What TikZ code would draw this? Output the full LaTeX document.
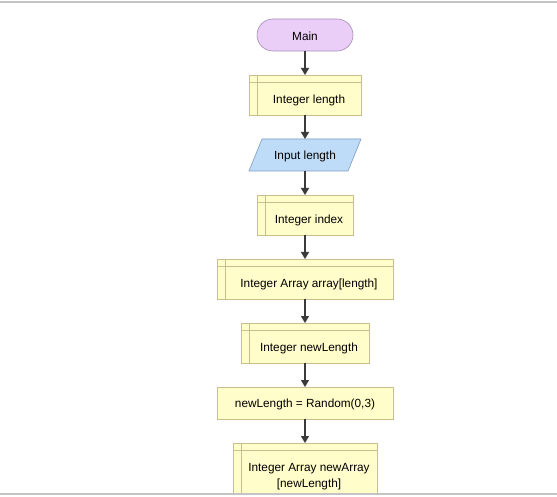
\documentclass[tikz,border=0pt]{standalone}
\usepackage{fontspec}
\setmainfont{Liberation Sans}
\usetikzlibrary{arrows.meta,shapes.geometric}
\definecolor{termfill}{HTML}{EBCEF7}
\definecolor{termline}{HTML}{A68BB5}
\definecolor{iofill}{HTML}{BEDCF8}
\definecolor{ioline}{HTML}{7D9CC0}
\definecolor{boxfill}{HTML}{FFFDC9}
\definecolor{boxline}{HTML}{C9BE8C}
\definecolor{flow}{HTML}{3A3A3A}
\definecolor{frame}{HTML}{C4C4C4}
\tikzset{
  x=1pt, y=-1pt,
  lbl/.style={font=\fontsize{11.8}{16}\selectfont, text=black, align=center, inner sep=0pt},
  flowarrow/.style={draw=flow, line width=1.3pt, -{Triangle[length=7pt,width=8pt]}},
  boxstyle/.style={fill=boxfill, draw=boxline, line width=0.6pt},
  divider/.style={draw=boxline, line width=0.6pt},
}
% declaration box with its two marker lines: left, top, right, bottom, name, text
% (the text is centred in the part right of the marker strip)
\newcommand{\declbox}[6]{%
  \path[boxstyle] (#1,#2) rectangle (#3,#4);
  \draw[divider] (#1,#2+7) -- (#3,#2+7);
  \draw[divider] (#1+8,#2) -- (#1+8,#4);
  \coordinate (#5-n) at ({(#1+#3)/2},#2);
  \coordinate (#5-s) at ({(#1+#3)/2},#4);
  \node[lbl] (#5) at ({(#1+#3)/2+4},{(#2+#4)/2+5}) {#6};
}
\begin{document}
\begin{tikzpicture}
\useasboundingbox (0,0) rectangle (557,497);
\fill[white] (0,0) rectangle (557,497);
\begin{scope}
\clip (0,0) rectangle (557,494);

% start terminal
\path[fill=termfill, draw=termline, line width=0.6pt, rounded corners=16pt]
  (257,19) rectangle (353,51);
\coordinate (main-s) at (305,51);
\node[lbl] (main) at (305,36) {Main};

\declbox{249}{75}{361}{115}{len}{Integer length}

% input parallelogram
\path[fill=iofill, draw=ioline, line width=0.6pt]
  (262,139) -- (361,139) -- (348,171) -- (249,171) -- cycle;
\coordinate (inp-n) at (305,139);
\coordinate (inp-s) at (305,171);
\node[lbl] (inp) at (305,156.5) {Input length};

\declbox{257}{195}{353}{235}{idx}{Integer index}
\declbox{217}{259}{393}{299}{arr}{Integer Array array[length]}
\declbox{241}{323}{369}{363}{nlen}{Integer newLength}

% assignment box
\path[boxstyle] (217,387) rectangle (393,419);
\coordinate (asg-n) at (305,387);
\coordinate (asg-s) at (305,419);
\node[lbl] (asg) at (305,404) {newLength = Random(0,3)};

\declbox{233}{443}{377}{503}{narr}{}
\node[lbl] (narrtxt) at (309,476.5) {Integer Array newArray\\[-0.5pt][newLength]};

\draw[flowarrow] (main-s) -- (len-n);
\draw[flowarrow] (len-s) -- (inp-n);
\draw[flowarrow] (inp-s) -- (idx-n);
\draw[flowarrow] (idx-s) -- (arr-n);
\draw[flowarrow] (arr-s) -- (nlen-n);
\draw[flowarrow] (nlen-s) -- (asg-n);
\draw[flowarrow] (asg-s) -- (narr-n);
\end{scope}

% window edges
\draw[frame, line width=1.2pt] (0,2) -- (557,2);
\draw[frame, line width=1.2pt] (0,494) -- (557,494);
\end{tikzpicture}
\end{document}
